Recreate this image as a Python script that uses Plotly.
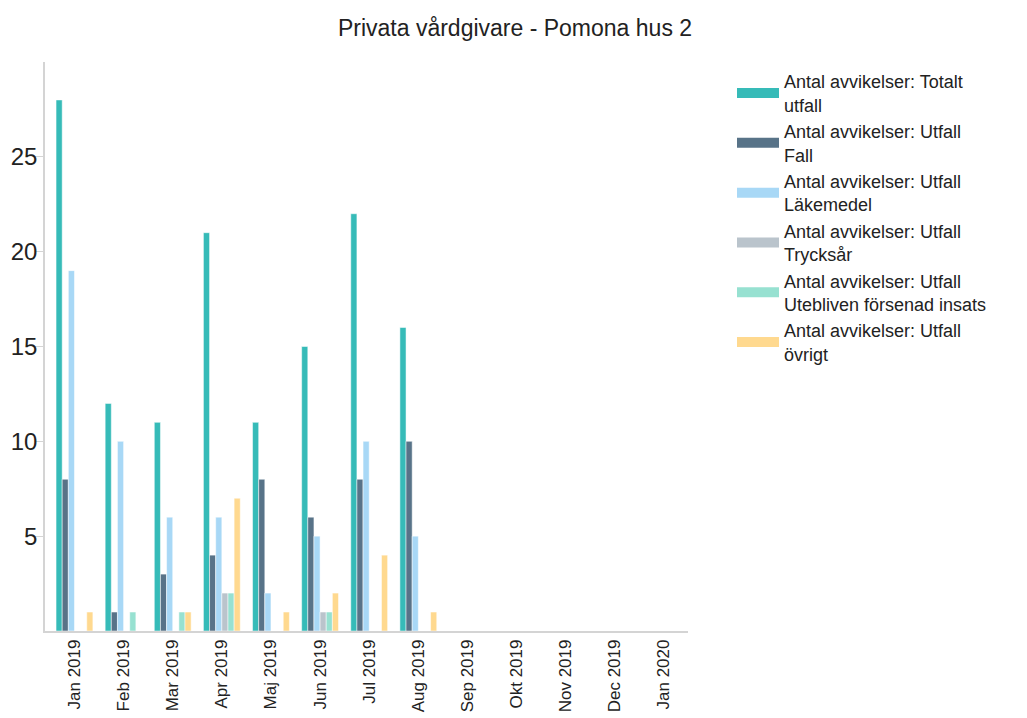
import plotly.graph_objects as go

months = ["Jan 2019", "Feb 2019", "Mar 2019", "Apr 2019", "Maj 2019", "Jun 2019",
          "Jul 2019", "Aug 2019", "Sep 2019", "Okt 2019", "Nov 2019", "Dec 2019", "Jan 2020"]

totalt = [28, 12, 11, 21, 11, 15, 22, 16, None, None, None, None, None]
fall = [8, 1, 3, 4, 8, 6, 8, 10, None, None, None, None, None]
lakemedel = [19, 10, 6, 6, 2, 5, 10, 5, None, None, None, None, None]
trycksar = [0, 0, 0, 2, 0, 1, 0, 0, None, None, None, None, None]
utebliven = [0, 1, 1, 2, 0, 1, 0, 0, None, None, None, None, None]
ovrigt = [1, 0, 1, 7, 1, 2, 4, 1, None, None, None, None, None]

series = [
    ("Antal avvikelser: Totalt<br>utfall", totalt, "#36BBB8"),
    ("Antal avvikelser: Utfall<br>Fall", fall, "#587388"),
    ("Antal avvikelser: Utfall<br>Läkemedel", lakemedel, "#A8D8F6"),
    ("Antal avvikelser: Utfall<br>Trycksår", trycksar, "#BAC4CC"),
    ("Antal avvikelser: Utfall<br>Utebliven försenad insats", utebliven, "#97E1D1"),
    ("Antal avvikelser: Utfall<br>övrigt", ovrigt, "#FFD98F"),
]

fig = go.Figure()
for i, (name, vals, color) in enumerate(series):
    grp = "g%d" % i
    fig.add_trace(go.Bar(x=months, y=vals, name=name, legendgroup=grp, showlegend=False,
                         marker=dict(color=color, line=dict(color="white", width=0.5))))
    # legend swatch (wide rectangle like the reference)
    fig.add_trace(go.Scatter(x=[None], y=[None], mode="lines", name=name, legendgroup=grp,
                             line=dict(color=color, width=14), hoverinfo="skip"))

# page body has an 8px default margin; figure sized/offset to compensate
OFF = 8
W, H = 1027 - OFF, 718 - OFF
L, R, T, B = 45 - OFF, 688 - OFF, 62 - OFF, 631 - OFF

fig.update_layout(
    width=W, height=H,
    barmode="group", bargap=0.25, bargroupgap=0,
    plot_bgcolor="white", paper_bgcolor="white",
    font=dict(family="Liberation Sans, Arial, sans-serif", color="#222222"),
    margin=dict(l=L, r=W - R, t=T, b=H - B, pad=0),
    title=dict(text="Privata vårdgivare - Pomona hus 2", x=(515 - OFF) / W, xref="container",
               xanchor="center", y=1 - (28 - OFF) / H, yref="container", yanchor="middle",
               font=dict(size=23, color="#222222")),
    legend=dict(x=(724 - L) / (R - L), y=0.998, xanchor="left", yanchor="top",
                font=dict(size=18, color="#222222"), tracegroupgap=0,
                itemwidth=42, bgcolor="rgba(0,0,0,0)"),
    showlegend=True,
)
fig.update_xaxes(type="category", range=[-0.6, 12.49], showline=True, linecolor="#d4d4d4",
                 linewidth=1.5, ticks="", tickangle=-90, tickfont=dict(size=17, color="#222222"),
                 showgrid=False, zeroline=False, automargin=False)
fig.update_yaxes(range=[0, 30], tickvals=[5, 10, 15, 20, 25], showline=True,
                 linecolor="#d4d4d4", linewidth=1.5, ticks="outside", ticklen=8,
                 tickcolor="#d4d4d4", tickfont=dict(size=24, color="#222222"),
                 ticklabelstandoff=-7,
                 showgrid=False, zeroline=False, automargin=False)

fig.write_html("out.html")
